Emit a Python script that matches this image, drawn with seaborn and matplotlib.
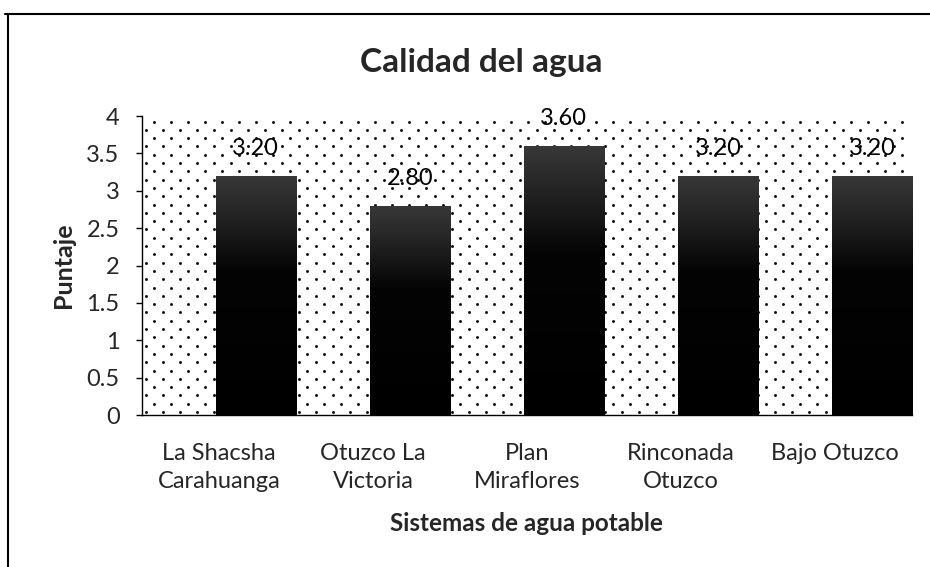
import numpy as np
import matplotlib
matplotlib.use("Agg")
import matplotlib.pyplot as plt
from matplotlib.lines import Line2D
import seaborn as sns

categories = ["La Shacsha\nCarahuanga", "Otuzco La\nVictoria", "Plan\nMiraflores",
              "Rinconada\nOtuzco", "Bajo Otuzco"]
values = [3.20, 2.80, 3.60, 3.20, 3.20]
yticks = [0, 0.5, 1, 1.5, 2, 2.5, 3, 3.5, 4]
ytick_labels = ["0", "0.5", "1", "1.5", "2", "2.5", "3", "3.5", "4"]

sns.set_theme(style="white")
plt.rcParams['font.family'] = ['Lato', 'DejaVu Sans']

fig = plt.figure(figsize=(9.3, 5.67), dpi=100)
ax = fig.add_axes([0.1525, 0.268, 0.9806 - 0.1525, 0.7954 - 0.268])

# dotted plot-area background (staggered dot pattern)
W = ax.get_position().width * 930
H = ax.get_position().height * 567
dx, dy = 17.0, 8.3
nx, ny = int(W / dx) + 1, int(H / dy)
px, py = [], []
for j in range(ny + 1):
    for i in range(nx + 1):
        px.append((i * dx + 0.5 * dx * (j % 2) + 4) / W)
        py.append((j * dy + 3) / H)
px = np.array(px); py = np.array(py)
m = (px <= 0.995) & (py <= 0.995)
ax.scatter(px[m], py[m], s=4.5, color="#111111", transform=ax.transAxes,
           zorder=0, linewidths=0)

bw = 0.52
sns.barplot(x=categories, y=values, width=bw, color="black", ax=ax,
            saturation=1, zorder=2)
shift = 0.5 - bw / 2
for p in ax.patches:
    p.set_x(p.get_x() + shift)
    p.set_edgecolor("none")

# gradient fill on bars (dark grey top -> black)
grad = np.linspace(0, 1, 256).reshape(-1, 1)
cmap = matplotlib.colors.LinearSegmentedColormap.from_list(
    "g", [(0, "#000000"), (0.6, "#040404"), (0.82, "#222222"), (1.0, "#383838")])
for p in ax.patches:
    x0, y0, w, h = p.get_x(), p.get_y(), p.get_width(), p.get_height()
    im = ax.imshow(grad, cmap=cmap, extent=[x0, x0 + w, y0, y0 + h],
                   origin="lower", aspect="auto", zorder=3)
    im.set_clip_path(p)

ax.bar_label(ax.containers[0], labels=[f"{v:.2f}" for v in values],
             padding=12, fontsize=17, color="black", zorder=4)

ax.set_xlim(-0.5, 4.5)
ax.set_ylim(0, 4)
ax.set_yticks(yticks)
ax.set_yticklabels(ytick_labels, fontsize=17)
ax.tick_params(axis="y", which="both", left=True, length=4, width=1, color="black",
               direction="out", pad=12)
ax.tick_params(axis="x", bottom=False, labelsize=17, pad=14)
for lab in ax.get_xticklabels():
    lab.set_linespacing(1.45)

for s in ["top", "right"]:
    ax.spines[s].set_visible(False)
ax.spines["left"].set_color("black")
ax.spines["bottom"].set_color("black")
ax.spines["left"].set_linewidth(1)
ax.spines["bottom"].set_linewidth(1)

ax.set_ylabel("Puntaje", fontsize=18, fontweight="bold", labelpad=8)
ax.set_xlabel("Sistemas de agua potable", fontsize=17.5, fontweight="bold", labelpad=14)
fig.text(0.518, 0.889, "Calidad del agua", ha="center", va="center",
         fontsize=24, fontweight="bold")

# outer frame (top and left edges)
fig.add_artist(Line2D([5 / 930, 1.0], [1 - 14 / 567, 1 - 14 / 567],
                      transform=fig.transFigure, color="black", lw=1.5))
fig.add_artist(Line2D([8 / 930, 8 / 930], [0, 1 - 14 / 567],
                      transform=fig.transFigure, color="black", lw=1.5))

fig.savefig("out.png", dpi=100, facecolor="white")
